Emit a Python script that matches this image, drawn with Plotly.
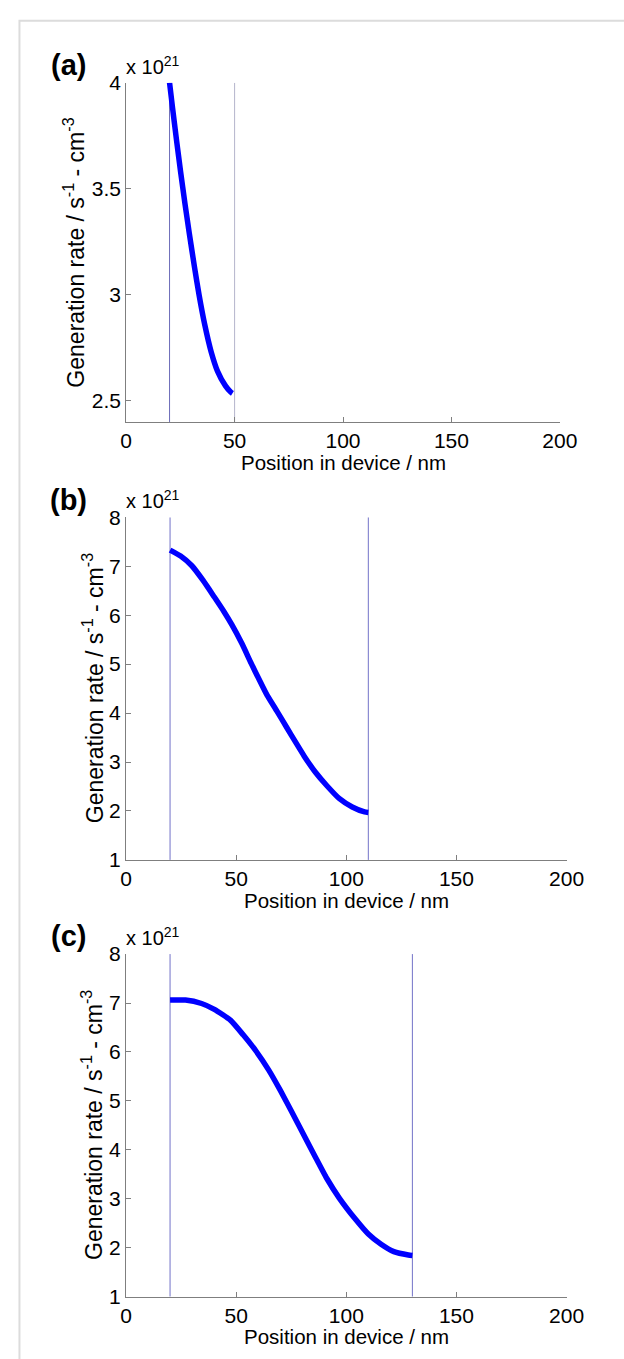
import plotly.graph_objects as go

W, H = 624, 1359

# ---------------- data (generation rate in units of 1e21 s^-1 cm^-3) ----------------
pos_a = [20, 21.4, 23.2, 25.1, 27.1, 29.1, 31.5, 33.6, 36.2, 39.2, 42.1, 45.8, 48.3, 49]
gen_a = [4.00, 3.88, 3.73, 3.58, 3.43, 3.29, 3.13, 3.00, 2.86, 2.73, 2.64, 2.57, 2.54, 2.535]

pos_b = [20, 24.8, 29.9, 35.0, 40.1, 44.5, 48.1, 52.5, 56.9, 60.5, 64.1, 68.5, 72.9,
         77.2, 80.9, 86.0, 91.1, 96.9, 102.7, 108.3, 110]
gen_b = [7.33, 7.21, 7.01, 6.71, 6.37, 6.07, 5.80, 5.43, 5.01, 4.68, 4.36, 4.04, 3.71,
         3.39, 3.12, 2.79, 2.52, 2.25, 2.08, 1.98, 1.97]

pos_c = [20, 27.0, 34.3, 40.1, 47.4, 53.2, 59.0, 64.8, 70.0, 75.1, 80.9, 86.0, 91.1,
         96.9, 104.2, 110.0, 115.8, 121.6, 128.2, 130]
gen_c = [7.06, 7.06, 6.99, 6.87, 6.65, 6.35, 6.02, 5.63, 5.22, 4.79, 4.29, 3.85, 3.42,
         3.01, 2.58, 2.28, 2.07, 1.92, 1.85, 1.84]

bounds_a = [20, 50]
bounds_b = [20, 110]
bounds_c = [20, 130]

x_ticks = [0, 50, 100, 150, 200]
y_ticks_a = [2.5, 3, 3.5, 4]
y_ticks_bc = [1, 2, 3, 4, 5, 6, 7, 8]
y_range_a = [2.4, 4]
y_range_bc = [1, 8]
x_range = [0, 200]

panel_labels = ["(a)", "(b)", "(c)"]
x_title = "Position in device / nm"
y_title = "Generation rate / s<sup>-1</sup> - cm<sup>-3</sup>"
exponent = "x 10<sup>21</sup>"

# ---------------- layout geometry in pixels ----------------
panels = [
    dict(x0=125, x1=576, top=72, bottom=417, pos=pos_a, gen=gen_a, bounds=bounds_a,
         yr=y_range_a, yt=y_ticks_a, bcol=["#6a6ab8", "#b4b4cc"], ytx=71),
    dict(x0=124.8, x1=583, top=514, bottom=862.5, pos=pos_b, gen=gen_b, bounds=bounds_b,
         yr=y_range_bc, yt=y_ticks_bc, bcol=["#7272c8", "#7272c8"], ytx=90),
    dict(x0=124.8, x1=583, top=958.3, bottom=1306.8, pos=pos_c, gen=gen_c, bounds=bounds_c,
         yr=y_range_bc, yt=y_ticks_bc, bcol=["#7272c8", "#7272c8"], ytx=90),
]

def px(x):
    return x / W

def py(y):
    return 1 - y / H

FONT = "Arial, Liberation Sans, sans-serif"
fig = go.Figure()
annotations = []
layout = dict(
    width=W, height=H,
    margin=dict(l=0, r=0, t=0, b=0),
    paper_bgcolor="white", plot_bgcolor="white",
    showlegend=False,
    font=dict(family=FONT, size=21, color="black"),
)

for i, p in enumerate(panels):
    n = "" if i == 0 else str(i + 1)
    xa, ya = "x" + n, "y" + n
    for b, col in zip(p["bounds"], p["bcol"]):
        fig.add_trace(go.Scatter(x=[b, b], y=p["yr"], mode="lines", xaxis=xa, yaxis=ya,
                                 line=dict(color=col, width=1), hoverinfo="skip"))
    fig.add_trace(go.Scatter(x=p["pos"], y=p["gen"], mode="lines", xaxis=xa, yaxis=ya,
                             line=dict(color="#0000ff", width=5.5, shape="spline", smoothing=0.5)))
    axis_common = dict(showline=True, linecolor="#7f7f7f", linewidth=1, ticks="inside",
                       ticklen=5, tickcolor="#7f7f7f", showgrid=False, zeroline=False,
                       mirror=False, tickfont=dict(family=FONT, size=21, color="black"))
    layout["xaxis" + n] = dict(domain=[px(p["x0"]), px(p["x1"])], range=x_range,
                               tickvals=x_ticks, anchor=ya, **axis_common)
    layout["yaxis" + n] = dict(domain=[py(p["bottom"]), py(p["top"])], range=p["yr"],
                               tickvals=p["yt"], anchor=xa, **axis_common)
    annotations.append(dict(text="<b>" + panel_labels[i] + "</b>", xref="paper", yref="paper",
                            x=px(65), y=py(p["top"] - 18), xanchor="center", yanchor="middle",
                            showarrow=False, font=dict(family=FONT, size=29, color="black")))
    annotations.append(dict(text=exponent, xref="paper", yref="paper",
                            x=px(123), y=py(p["top"] - 3), xanchor="left", yanchor="bottom",
                            showarrow=False, font=dict(family=FONT, size=20, color="black")))
    annotations.append(dict(text=x_title, xref="paper", yref="paper",
                            x=px((p["x0"] + p["x1"]) / 2), y=py(p["bottom"] + 41),
                            xanchor="center", yanchor="middle", showarrow=False,
                            font=dict(family=FONT, size=20.5, color="black")))
    annotations.append(dict(text=y_title, xref="paper", yref="paper", textangle=-90,
                            x=px(p["ytx"]), y=py((p["top"] + p["bottom"]) / 2),
                            xanchor="center", yanchor="middle", showarrow=False,
                            font=dict(family=FONT, size=23, color="black")))

layout["annotations"] = annotations
layout["shapes"] = [dict(type="rect", xref="paper", yref="paper",
                         x0=px(14), x1=1.2, y0=-0.2, y1=py(9),
                         line=dict(color="#dcdcdc", width=2), layer="below")]
fig.update_layout(**layout)

post = (
    "var gd=document.getElementById('{plot_id}');"
    "document.documentElement.style.margin='0';document.body.style.margin='0';"
    "document.documentElement.style.overflow='hidden';document.body.style.overflow='hidden';"
    "gd.style.position='fixed';gd.style.left='0px';gd.style.top='0px';"
)
fig.write_html("out.html", config={"displayModeBar": False}, post_script=post)
